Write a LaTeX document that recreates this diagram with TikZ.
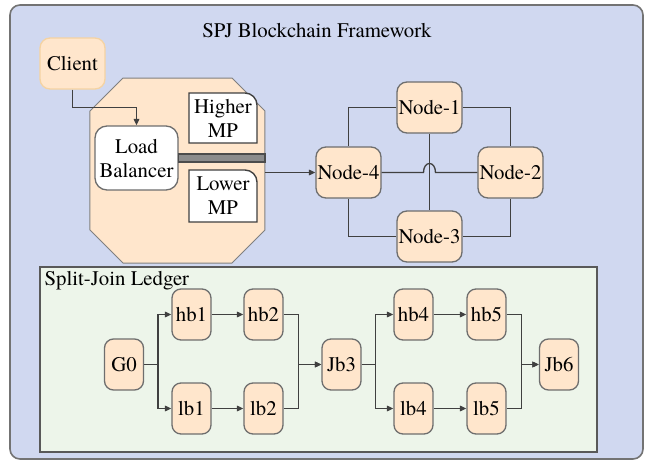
\documentclass[tikz,border=0pt]{standalone}
\usepackage{fontspec}
\IfFontExistsTF{texgyretermes-regular.otf}
  {\setmainfont{texgyretermes-regular.otf}}
  {}
\usetikzlibrary{arrows.meta}

\definecolor{bgblue}{HTML}{D0D8F0}
\definecolor{bggreen}{HTML}{EDF5EA}
\definecolor{peach}{HTML}{FFE6CC}
\definecolor{edge}{HTML}{6E6E6E}
\definecolor{wire}{HTML}{404040}
\definecolor{clientedge}{HTML}{F5D3A2}

\begin{document}
\begin{tikzpicture}[x=0.5pt,y=-0.5pt,>={Triangle[length=3.2pt,width=2.8pt]},
  font=\fontsize{10.4}{12}\selectfont, line width=0.65pt, draw=wire,
  peer/.style={draw=edge,fill=peach,rounded corners=5pt,minimum width=32.5pt,minimum height=25.5pt,inner sep=0pt},
  blk/.style={peer,rounded corners=4.5pt,minimum width=19.5pt},
  lbal/.style={peer,fill=white,rounded corners=6pt,minimum width=41.5pt,minimum height=32pt,align=center},
  mpbox/.style={draw=wire,fill=white,line width=0.7pt},
  octa/.style={draw=gray,fill=peach,line width=0.5pt},
  bar/.style={draw=black!70,fill=black!45,line width=0.6pt}]
  \useasboundingbox (0,0) rectangle (645,461);
  \draw[draw=black!55,fill=bgblue,line width=0.8pt,rounded corners=5pt] (10,5) rectangle (643,459);
  \node (title) at (317,31) {SPJ Blockchain Framework};

  % load balancer unit
  \draw[octa] (123,78) -- (232,78) -- (265,111) -- (265,230) -- (232,263) -- (123,263) -- (90,230) -- (90,111) -- cycle;
  \coordinate (lbout) at (265,172.5);
  \node[peer,draw=clientedge] (client) at (72.5,63.5) {Client};
  \node[lbal] (lb) at (136.5,158) {Load\\Balancer};
  \draw[bar] ([yshift=2pt]lb.east) rectangle ([yshift=-2pt]lbout |- lb.east);
  \draw[mpbox] (189,93) -- (245,93) .. controls (251.6,93) and (257,98.4) .. (257,105) -- (257,143) -- (189,143) -- cycle;
  \node[align=center] (hmp) at (223,118) {Higher\\MP};
  \draw[mpbox] (189,170) -- (245,170) .. controls (251.6,170) and (257,175.4) .. (257,182) -- (257,222) -- (189,222) -- cycle;
  \node[align=center] (lmp) at (223,196) {Lower\\MP};
  \draw[->] (client.south) -- ++(0,18) -| (lb.north);

  % peer network
  \node[peer] (n1) at (429.5,107.5) {Node-1};
  \node[peer] (n2) at (510.5,172.5) {Node-2};
  \node[peer] (n3) at (429.5,236.5) {Node-3};
  \node[peer] (n4) at (348.5,172.5) {Node-4};
  \draw[->] (lbout) -- (n4.west);
  \draw (n1.west) -| (n4.north);
  \draw (n1.east) -| (n2.north);
  \draw (n4.south) |- (n3.west);
  \draw (n2.south) |- (n3.east);
  \draw (n1.south) -- (n3.north);
  % line jump where 4--2 crosses 1--3
  \coordinate (hop) at (n1.south |- n4.east);
  \draw (n4.east) -- ([xshift=-3pt]hop) .. controls ([shift={(-3pt,6pt)}]hop) and ([shift={(3pt,6pt)}]hop) .. ([xshift=3pt]hop) -- (n2.west);

  % ledger
  \draw[draw=black!65,fill=bggreen,line width=0.7pt] (40,267) rectangle (597,452);
  \node[anchor=north west,inner sep=2pt] (ltitle) at (40,267) {Split-Join Ledger};
  \foreach \n/\x/\y/\t in {g0/124/364.5/G0, hb1/191.5/314.5/hb1, hb2/263.5/314.5/hb2,
      lb1/191.5/408.5/lb1, lb2/263.5/408.5/lb2, jb3/341.5/364.5/Jb3,
      hb4/413.5/314.5/hb4, hb5/486.5/314.5/hb5, lb4/413.5/408.5/lb4,
      lb5/486.5/408.5/lb5, jb6/559/364.5/Jb6}
    \node[blk] (\n) at (\x,\y) {\t};
  \foreach \a/\b/\c in {g0/hb1/lb1, jb3/hb4/lb4}{
    \draw[->] (\a.east) -- ++(14,0) |- (\b.west);
    \draw[->] (\a.east) -- ++(14,0) |- (\c.west); }
  \foreach \a/\b in {hb1/hb2, lb1/lb2, hb4/hb5, lb4/lb5} \draw[->] (\a) -- (\b);
  \foreach \a/\b in {hb2/jb3, lb2/jb3, hb5/jb6, lb5/jb6} \draw[->] (\a.east) -- ++(15,0) |- (\b.west);
\end{tikzpicture}
\end{document}
